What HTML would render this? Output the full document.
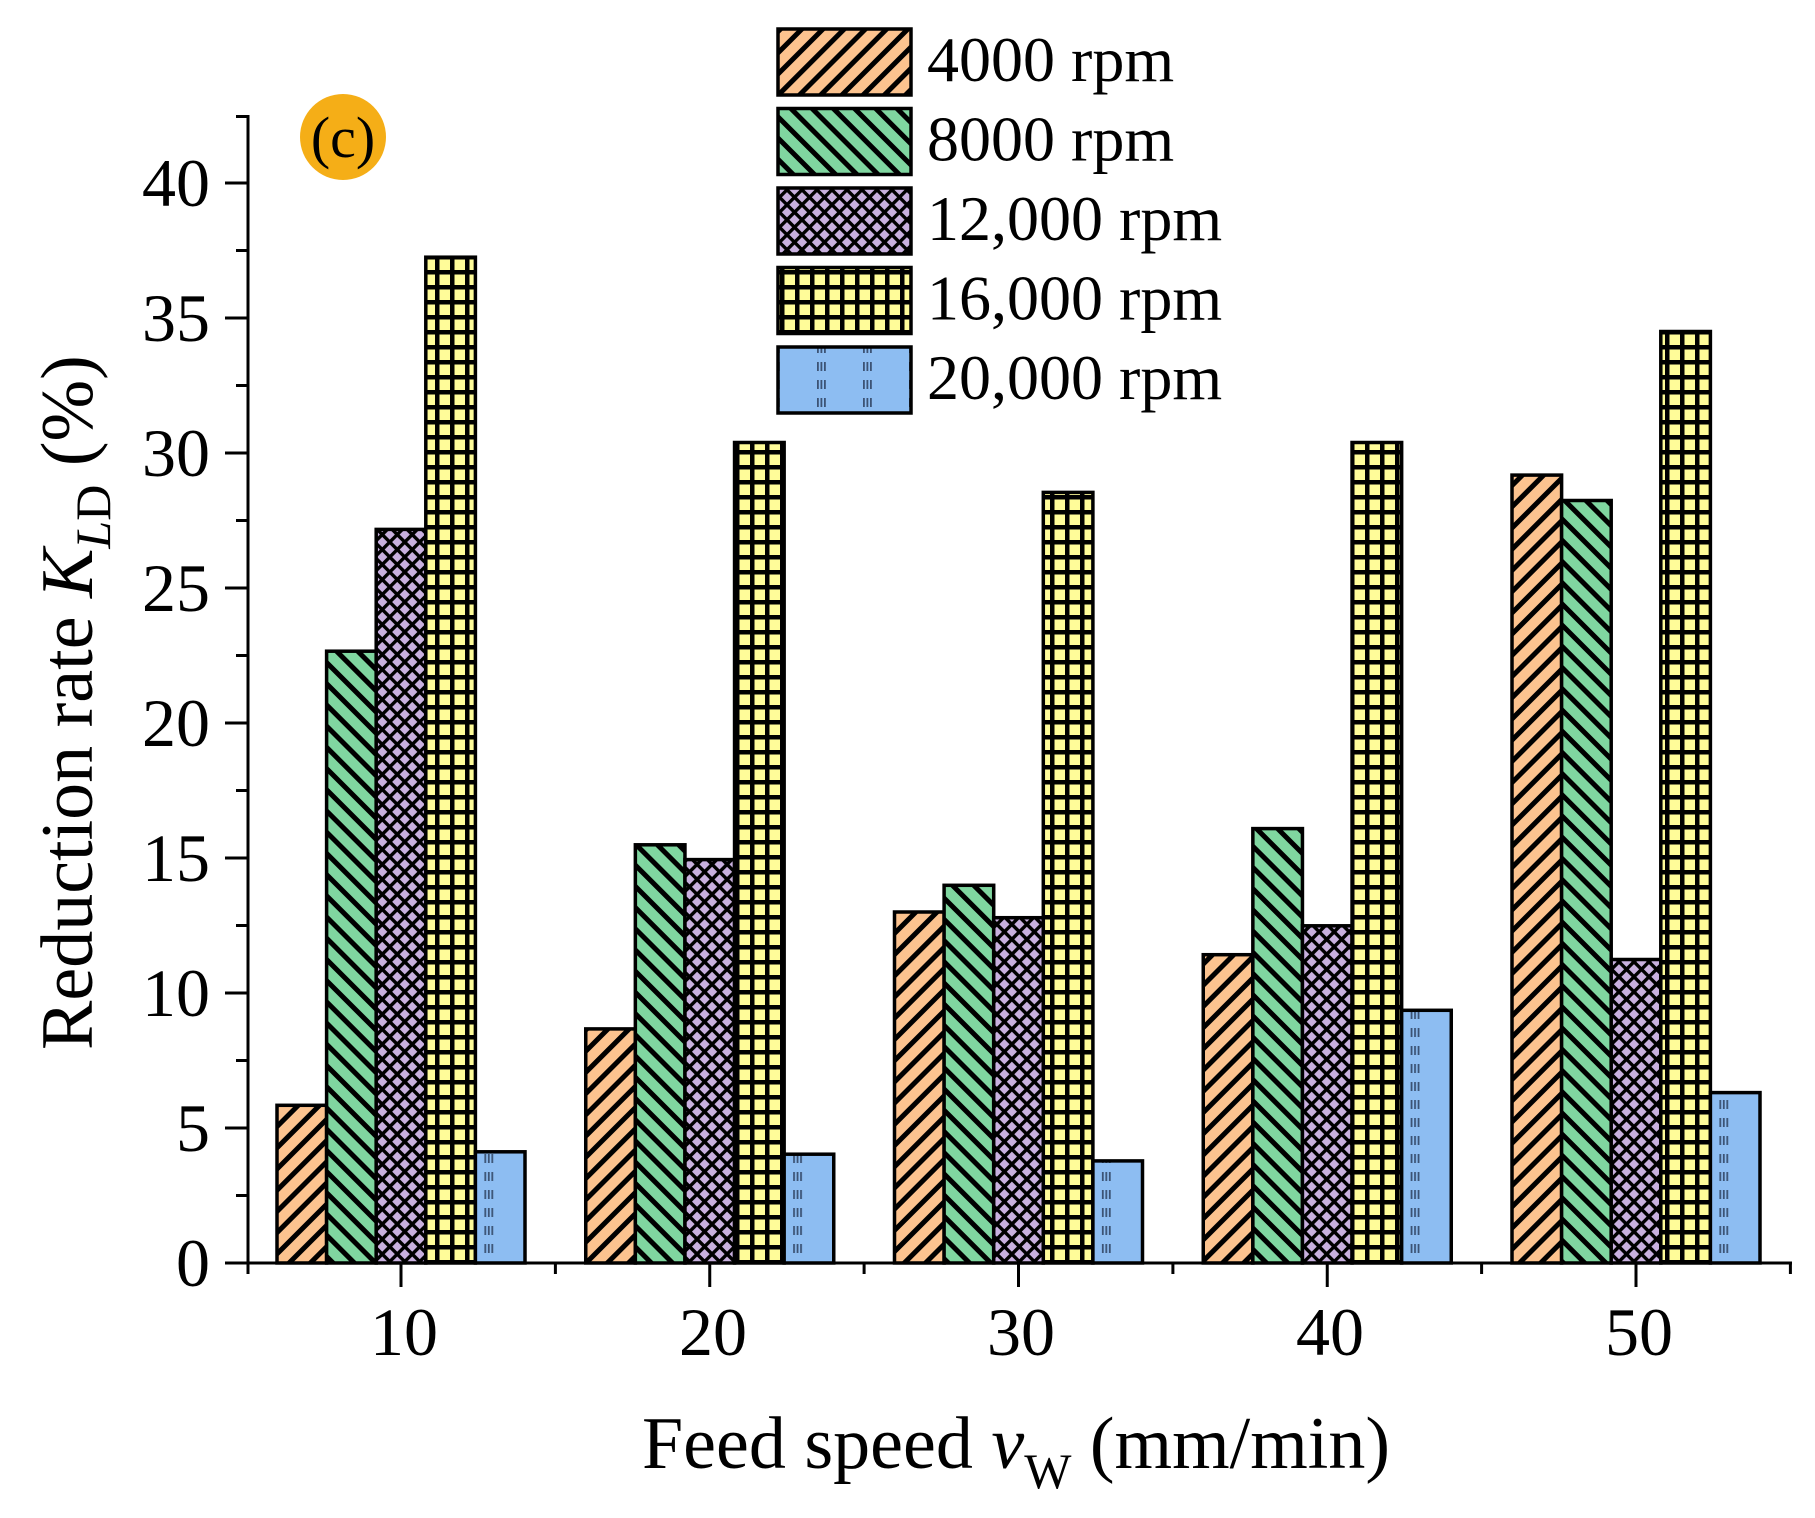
<!DOCTYPE html>
<html>
<head>
<meta charset="utf-8">
<style>
  html, body { margin: 0; padding: 0; background: #ffffff; }
  svg { display: block; }
  text { font-family: "Liberation Serif", "Times New Roman", serif; fill: #000; }
</style>
</head>
<body>
<svg width="1815" height="1518" viewBox="0 0 1815 1518" xmlns="http://www.w3.org/2000/svg">
  <defs>
    <pattern id="pOrange" patternUnits="userSpaceOnUse" width="15" height="15" patternTransform="rotate(45)">
      <rect width="15" height="15" fill="#FCC38F"/>
      <rect x="0" y="0" width="5" height="15" fill="#000"/>
    </pattern>
    <pattern id="pGreen" patternUnits="userSpaceOnUse" width="15" height="15" patternTransform="rotate(-45)">
      <rect width="15" height="15" fill="#80D6A0"/>
      <rect x="0" y="0" width="5" height="15" fill="#000"/>
    </pattern>
    <pattern id="pPurple" patternUnits="userSpaceOnUse" width="10.6" height="10.6" patternTransform="rotate(45)">
      <rect width="10.6" height="10.6" fill="#C8B0DE"/>
      <rect x="0" y="0" width="3.4" height="10.6" fill="#000"/>
      <rect x="0" y="0" width="10.6" height="3.4" fill="#000"/>
    </pattern>
    <pattern id="pYellow" patternUnits="userSpaceOnUse" width="15" height="15">
      <rect width="15" height="15" fill="#FFFC99"/>
      <rect x="0" y="0" width="4.5" height="15" fill="#000"/>
      <rect x="0" y="0" width="15" height="4.5" fill="#000"/>
    </pattern>
    <pattern id="pBlue" patternUnits="userSpaceOnUse" width="46" height="18">
      <rect width="46" height="18" fill="#8DBDF2"/>
      <rect x="9" y="2" width="1.8" height="9" fill="#1a2640" opacity="0.7"/>
      <rect x="12.5" y="2" width="1.8" height="9" fill="#1a2640" opacity="0.7"/>
      <rect x="16" y="2" width="1.8" height="9" fill="#1a2640" opacity="0.7"/>
    </pattern>
  </defs>

  <!-- Bars -->
  <g stroke="#000" stroke-width="3.5">
    <!-- group 10 -->
    <rect x="277" y="1105.3" width="49.6" height="157.7" fill="url(#pOrange)"/>
    <rect x="326.6" y="651.2" width="49.6" height="611.8" fill="url(#pGreen)"/>
    <rect x="376.2" y="529.4" width="49.6" height="733.6" fill="url(#pPurple)"/>
    <rect x="425.8" y="257.2" width="49.6" height="1005.8" fill="url(#pYellow)"/>
    <g transform="translate(475.4,0)"><rect x="0" y="1151.8" width="49.6" height="111.2" fill="url(#pBlue)"/></g>
    <!-- group 20 -->
    <rect x="585.75" y="1028.9" width="49.6" height="234.1" fill="url(#pOrange)"/>
    <rect x="635.35" y="844.8" width="49.6" height="418.2" fill="url(#pGreen)"/>
    <rect x="684.95" y="859.6" width="49.6" height="403.4" fill="url(#pPurple)"/>
    <rect x="734.55" y="442.5" width="49.6" height="820.5" fill="url(#pYellow)"/>
    <g transform="translate(784.15,0)"><rect x="0" y="1154.2" width="49.6" height="108.8" fill="url(#pBlue)"/></g>
    <!-- group 30 -->
    <rect x="894.5" y="912" width="49.6" height="351" fill="url(#pOrange)"/>
    <rect x="944.1" y="885.3" width="49.6" height="377.7" fill="url(#pGreen)"/>
    <rect x="993.7" y="917.7" width="49.6" height="345.3" fill="url(#pPurple)"/>
    <rect x="1043.3" y="492.4" width="49.6" height="770.6" fill="url(#pYellow)"/>
    <g transform="translate(1092.9,0)"><rect x="0" y="1160.9" width="49.6" height="102.1" fill="url(#pBlue)"/></g>
    <!-- group 40 -->
    <rect x="1203.25" y="954.7" width="49.6" height="308.3" fill="url(#pOrange)"/>
    <rect x="1252.85" y="828.6" width="49.6" height="434.4" fill="url(#pGreen)"/>
    <rect x="1302.45" y="925.8" width="49.6" height="337.2" fill="url(#pPurple)"/>
    <rect x="1352.05" y="442.5" width="49.6" height="820.5" fill="url(#pYellow)"/>
    <g transform="translate(1401.65,0)"><rect x="0" y="1010.3" width="49.6" height="252.7" fill="url(#pBlue)"/></g>
    <!-- group 50 -->
    <rect x="1512" y="475.1" width="49.6" height="787.9" fill="url(#pOrange)"/>
    <rect x="1561.6" y="500.5" width="49.6" height="762.5" fill="url(#pGreen)"/>
    <rect x="1611.2" y="959.5" width="49.6" height="303.5" fill="url(#pPurple)"/>
    <rect x="1660.8" y="331.5" width="49.6" height="931.5" fill="url(#pYellow)"/>
    <g transform="translate(1710.4,0)"><rect x="0" y="1092.6" width="49.6" height="170.4" fill="url(#pBlue)"/></g>
  </g>

  <!-- Axes -->
  <g stroke="#000" stroke-width="3" fill="none">
    <line x1="248" y1="115" x2="248" y2="1264.5"/>
    <line x1="225" y1="1263" x2="1792" y2="1263"/>
    <!-- y major ticks -->
    <line x1="225" y1="1128" x2="248" y2="1128"/>
    <line x1="225" y1="993" x2="248" y2="993"/>
    <line x1="225" y1="858" x2="248" y2="858"/>
    <line x1="225" y1="723" x2="248" y2="723"/>
    <line x1="225" y1="588" x2="248" y2="588"/>
    <line x1="225" y1="453" x2="248" y2="453"/>
    <line x1="225" y1="318" x2="248" y2="318"/>
    <line x1="225" y1="183" x2="248" y2="183"/>
    <!-- y minor ticks -->
    <line x1="236" y1="1195.5" x2="248" y2="1195.5"/>
    <line x1="236" y1="1060.5" x2="248" y2="1060.5"/>
    <line x1="236" y1="925.5" x2="248" y2="925.5"/>
    <line x1="236" y1="790.5" x2="248" y2="790.5"/>
    <line x1="236" y1="655.5" x2="248" y2="655.5"/>
    <line x1="236" y1="520.5" x2="248" y2="520.5"/>
    <line x1="236" y1="385.5" x2="248" y2="385.5"/>
    <line x1="236" y1="250.5" x2="248" y2="250.5"/>
    <line x1="236" y1="116.5" x2="248" y2="116.5"/>
    <!-- x major ticks -->
    <line x1="401" y1="1263" x2="401" y2="1287"/>
    <line x1="709.75" y1="1263" x2="709.75" y2="1287"/>
    <line x1="1018.5" y1="1263" x2="1018.5" y2="1287"/>
    <line x1="1327.25" y1="1263" x2="1327.25" y2="1287"/>
    <line x1="1636" y1="1263" x2="1636" y2="1287"/>
    <!-- x minor ticks -->
    <line x1="248" y1="1263" x2="248" y2="1274"/>
    <line x1="555.4" y1="1263" x2="555.4" y2="1274"/>
    <line x1="864.1" y1="1263" x2="864.1" y2="1274"/>
    <line x1="1172.9" y1="1263" x2="1172.9" y2="1274"/>
    <line x1="1481.6" y1="1263" x2="1481.6" y2="1274"/>
    <line x1="1790.4" y1="1263" x2="1790.4" y2="1274"/>
  </g>

  <!-- Y tick labels -->
  <g font-size="68" text-anchor="end">
    <text x="210" y="1286">0</text>
    <text x="210" y="1151">5</text>
    <text x="210" y="1016">10</text>
    <text x="210" y="881">15</text>
    <text x="210" y="746">20</text>
    <text x="210" y="611">25</text>
    <text x="210" y="476">30</text>
    <text x="210" y="341">35</text>
    <text x="210" y="206">40</text>
  </g>

  <!-- X tick labels -->
  <g font-size="68" text-anchor="middle">
    <text x="404" y="1355">10</text>
    <text x="713" y="1355">20</text>
    <text x="1021" y="1355">30</text>
    <text x="1330" y="1355">40</text>
    <text x="1639" y="1355">50</text>
  </g>

  <!-- X axis title -->
  <text x="642" y="1468" font-size="74">Feed speed <tspan font-style="italic">v</tspan><tspan font-size="50" dy="20">W</tspan><tspan dy="-20"> (mm/min)</tspan></text>

  <!-- Y axis title -->
  <text transform="translate(92,1050) rotate(-90)" font-size="74">Reduction rate <tspan font-style="italic">K</tspan><tspan font-size="50" dy="18" font-style="italic">L</tspan><tspan font-size="50">D</tspan><tspan dy="-18"> (%)</tspan></text>

  <!-- (c) badge -->
  <circle cx="343" cy="137" r="43" fill="#F5AE17"/>
  <text x="343" y="157" font-size="58" text-anchor="middle">(c)</text>

  <!-- Legend -->
  <g stroke="#000" stroke-width="3.5">
    <rect x="778" y="29" width="133" height="66" fill="url(#pOrange)"/>
    <rect x="778" y="108.5" width="133" height="66" fill="url(#pGreen)"/>
    <rect x="778" y="188" width="133" height="66" fill="url(#pPurple)"/>
    <rect x="778" y="267.5" width="133" height="66" fill="url(#pYellow)"/>
    <g transform="translate(808,0)"><rect x="-30" y="347" width="133" height="66" fill="url(#pBlue)"/></g>
  </g>
  <g font-size="64">
    <text x="927" y="81">4000 rpm</text>
    <text x="927" y="160.5">8000 rpm</text>
    <text x="927" y="240">12,000 rpm</text>
    <text x="927" y="319.5">16,000 rpm</text>
    <text x="927" y="399">20,000 rpm</text>
  </g>
</svg>
</body>
</html>
